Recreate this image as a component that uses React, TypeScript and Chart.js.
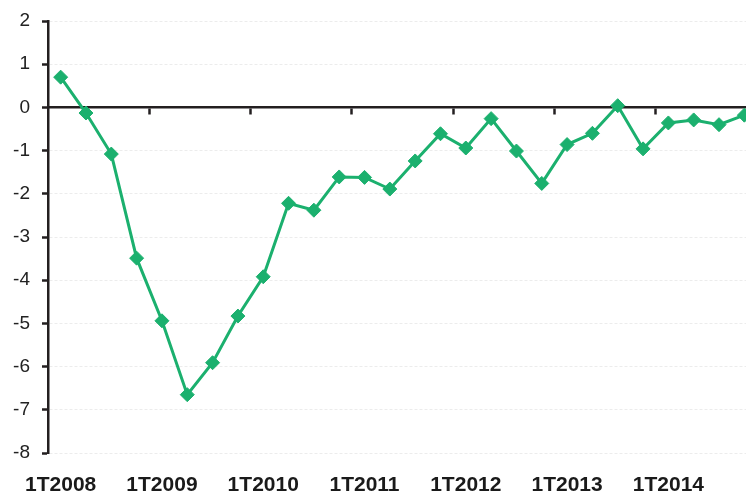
import React, { useEffect, useRef } from "react";
import { Chart, registerables } from "chart.js";

Chart.register(...registerables);

const years = ["2008", "2009", "2010", "2011", "2012", "2013", "2014"];
const quarters = ["1T", "2T", "3T", "4T"];
const categories: string[] = years.flatMap((y) => quarters.map((q) => q + y));

const values = [
  0.7, -0.13, -1.08, -3.49, -4.94, -6.65, -5.91, -4.83, -3.92, -2.22,
  -2.38, -1.61, -1.62, -1.89, -1.24, -0.61, -0.94, -0.26, -1.01, -1.76,
  -0.86, -0.6, 0.04, -0.96, -0.36, -0.29, -0.4, -0.18,
];

const yMin = -8;
const yMax = 2;

const GREEN = "#1bb06e";
const INK = "#231f20";

export default function App() {
  const ref = useRef<HTMLCanvasElement | null>(null);

  useEffect(() => {
    if (!ref.current) return;
    const chart = new Chart(ref.current, {
      type: "line",
      data: {
        labels: categories,
        datasets: [
          {
            data: values,
            borderColor: GREEN,
            backgroundColor: GREEN,
            borderWidth: 3,
            pointStyle: "rectRot",
            pointRadius: 7,
            pointBackgroundColor: GREEN,
            pointBorderColor: GREEN,
            pointBorderWidth: 1,
            tension: 0,
            xAxisID: "x2",
          },
        ],
      },
      options: {
        responsive: false,
        maintainAspectRatio: false,
        animation: false,
        layout: { autoPadding: false, padding: { top: 21, right: 0, bottom: 0, left: 0 } },
        plugins: { legend: { display: false }, tooltip: { enabled: false } },
        scales: {
          x2: {
            type: "category",
            position: "bottom",
            offset: true,
            grid: {
              display: true,
              drawOnChartArea: false,
              drawTicks: true,
              tickLength: 18,
              color: "rgba(0,0,0,0)",
              tickColor: "rgba(0,0,0,0)",
            },
            border: { display: false },
            ticks: {
              autoSkip: false,
              maxRotation: 0,
              padding: 2,
              color: "#1a1a1a",
              font: { family: "Liberation Sans, Arial, sans-serif", size: 21, weight: "bold" },
              callback: (_v: any, i: number) => (i % 4 === 0 ? categories[i] : ""),
            },
            afterFit: (s: any) => {
              s.height = 41;
              s.paddingRight = 0;
            },
          },
          x: {
            type: "category",
            position: { y: 0 } as any,
            offset: true,
            grid: {
              offset: true,
              drawOnChartArea: false,
              drawTicks: true,
              tickLength: 6,
              tickWidth: 2.5,
              color: (c: any) => (c.index % 4 === 0 && c.index > 0 ? INK : "rgba(0,0,0,0)"),
              tickColor: (c: any) => (c.index % 4 === 0 && c.index > 0 ? INK : "rgba(0,0,0,0)"),
            },
            border: { display: true, color: INK, width: 2.5 },
            ticks: { display: false, autoSkip: false, padding: 0 },
            afterFit: (s: any) => {
              s.paddingLeft = 0;
              s.paddingRight = 0;
            },
          },
          y: {
            min: yMin,
            max: yMax,
            position: "left",
            grid: {
              color: "#ececec",
              lineWidth: 1,
              drawTicks: true,
              tickLength: 6,
              tickColor: INK,
              tickWidth: 2.5,
            },
            border: { display: true, color: INK, width: 2.5, dash: [3, 2] },
            ticks: {
              stepSize: 1,
              padding: 12,
              color: "#222222",
              font: { family: "Liberation Sans, Arial, sans-serif", size: 19 },
            },
            afterFit: (s: any) => {
              s.width = 48;
              s.paddingTop = 21;
              s.paddingBottom = 0;
            },
          },
        },
      },
    });
    return () => chart.destroy();
  }, []);

  return (
    <div
      style={{
        position: "fixed",
        left: 0,
        top: 0,
        width: 746,
        height: 494,
        overflow: "hidden",
        background: "#ffffff",
      }}
    >
      <canvas ref={ref} width={757} height={494} style={{ display: "block" }} />
    </div>
  );
}
